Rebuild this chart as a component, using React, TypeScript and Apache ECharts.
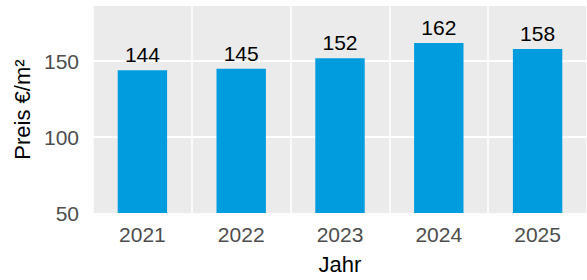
import React, { useEffect, useRef } from "react";
import * as echarts from "echarts";

const years = ["2021", "2022", "2023", "2024", "2025"];
const prices = [144, 145, 152, 162, 158];
const yTicks = [50, 100, 150];

export default function App() {
  const ref = useRef<HTMLDivElement>(null);
  useEffect(() => {
    document.body.style.margin = "0";
    const chart = echarts.init(ref.current!, null, { renderer: "svg" });
    const font = "'Liberation Sans', Arial, sans-serif";
    chart.setOption({
      animation: false,
      backgroundColor: "#ffffff",
      textStyle: { fontFamily: font },
      grid: {
        left: 93,
        top: 6,
        width: 500,
        height: 210,
        show: true,
        backgroundColor: "#EBEBEB",
        borderWidth: 0,
        containLabel: false,
      },
      xAxis: {
        type: "category",
        data: years,
        boundaryGap: true,
        axisLine: { show: false },
        axisTick: { show: false },
        axisLabel: { color: "#4D4D4D", fontSize: 21, margin: 11, fontFamily: font },
        splitLine: { show: true, lineStyle: { color: "#ffffff", width: 1.5 } },
        name: "Jahr",
        nameLocation: "middle",
        nameGap: 40,
        nameTextStyle: { color: "#000000", fontSize: 22, fontFamily: font },
      },
      yAxis: {
        type: "value",
        min: 50,
        max: 186.4,
        interval: 50,
        axisLine: { show: false },
        axisTick: { show: false },
        axisLabel: {
          color: "#4D4D4D",
          fontSize: 21,
          margin: 14,
          fontFamily: font,
          showMaxLabel: false,
          formatter: (v: number) => (yTicks.includes(v) ? String(v) : ""),
        },
        splitLine: {
          show: true,
          showMinLine: false,
          showMaxLine: false,
          lineStyle: { color: "#ffffff", width: 2 },
        },
        name: "Preis €/m²",
        nameLocation: "middle",
        nameGap: 59,
        nameRotate: 90,
        nameTextStyle: { color: "#000000", fontSize: 22, fontFamily: font },
      },
      series: [
        {
          type: "bar",
          data: prices,
          barWidth: "50%",
          clip: true,
          itemStyle: { color: "#009CDE" },
          label: {
            show: true,
            position: "top",
            distance: 5,
            color: "#000000",
            fontSize: 21,
            fontFamily: font,
          },
        },
      ],
    });
    return () => chart.dispose();
  }, []);
  return <div ref={ref} style={{ width: 587, height: 280 }} />;
}
